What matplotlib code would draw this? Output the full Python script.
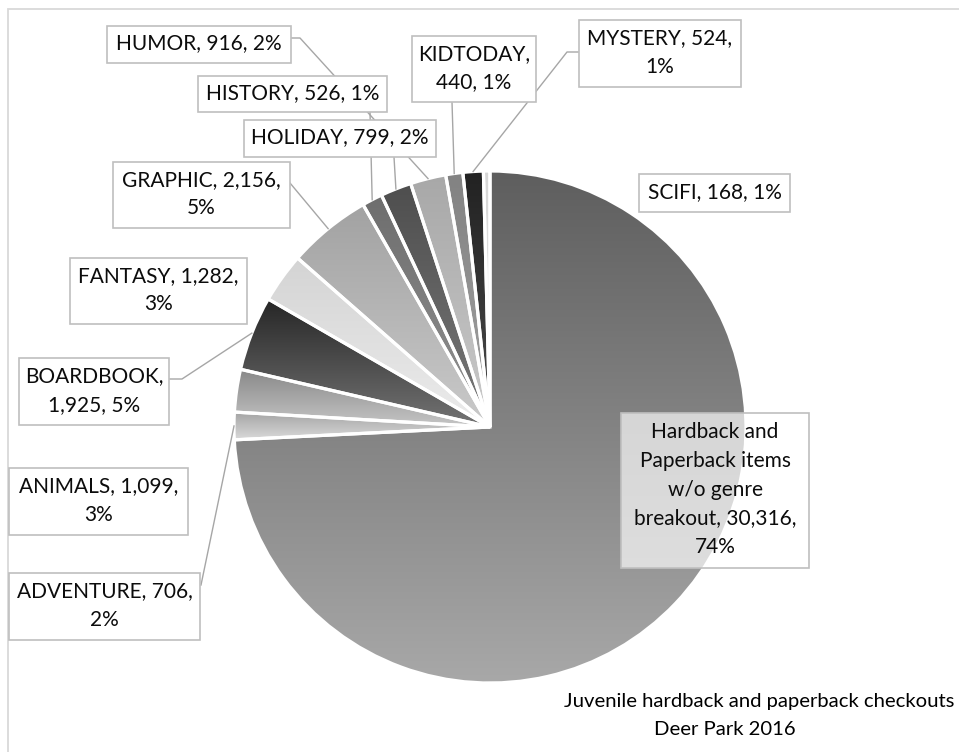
import numpy as np
import matplotlib
matplotlib.use("Agg")
import matplotlib.pyplot as plt
from matplotlib.colors import LinearSegmentedColormap
from matplotlib.patches import Rectangle

W, H = 959, 752

genres = ["Hardback and\nPaperback items\nw/o genre\nbreakout", "ADVENTURE", "ANIMALS",
          "BOARDBOOK", "FANTASY", "GRAPHIC", "HISTORY", "HOLIDAY", "HUMOR",
          "KIDTODAY", "MYSTERY", "SCIFI"]
checkouts = [30316, 706, 1099, 1925, 1282, 2156, 526, 799, 916, 440, 524, 168]
pct_labels = ["74%", "2%", "3%", "5%", "3%", "5%", "1%", "2%", "2%", "1%", "1%", "1%"]

# separators after the name and after the value (where the label wraps)
seps = [(", ", ",\n"), (", ", ",\n"), (", ", ",\n"), (",\n", ", "), (", ", ",\n"),
        (", ", ",\n"), (", ", ", "), (", ", ", "), (", ", ", "), (",\n", ", "),
        (", ", ",\n"), (", ", ", ")]

# gradient colours, top -> bottom of each slice
top_cols = ["#5e5e5e", "#a4a4a4", "#888888", "#262626", "#d4d4d4", "#a2a2a2",
            "#6e6e6e", "#4e4e4e", "#a8a8a8", "#828282", "#222222", "#d6d6d6"]
bot_cols = ["#a8a8a8", "#dadada", "#c6c6c6", "#747474", "#ececec", "#cacaca",
            "#929292", "#7a7a7a", "#cacaca", "#a2a2a2", "#4c4c4c", "#eeeeee"]

# label boxes in pixels: x0, x1, y0, y1 (y from top)
boxes = [(621, 809, 413, 568), (9, 200, 573, 640), (9, 188, 468, 535),
         (19, 169, 358, 425), (70, 247, 258, 324), (113, 290, 162, 228),
         (198, 387, 76, 112), (244, 436, 120, 157), (107, 291, 26, 63),
         (412, 536, 36, 102), (579, 741, 20, 87), (639, 790, 174, 212)]

# leader line start points (pixels) from the box towards the slice
leaders = {1: [(201, 585)], 3: [(169, 379), (182, 379)], 5: [(290, 183)],
           6: [(370, 112)], 7: [(394, 157)], 8: [(291, 38), (300, 38)],
           9: [(452, 102)], 10: [(579, 52), (567, 52)]}

font = ["Lato", "DejaVu Sans"]
cx, cy, R = 490, H - 427, 256

fig = plt.figure(figsize=(W / 100, H / 100), dpi=100)
ax = fig.add_axes([0, 0, 1, 1])
ax.set_axis_off()

wedges, _ = ax.pie(checkouts, startangle=90, counterclock=False, center=(cx, cy),
                   radius=R, wedgeprops=dict(facecolor="none", edgecolor="white",
                                             linewidth=2.3, zorder=3))

grad = np.linspace(0, 1, 256).reshape(-1, 1)
for w, tc, bc in zip(wedges, top_cols, bot_cols):
    ext = w.get_path().get_extents()
    cmap = LinearSegmentedColormap.from_list("g", [bc, tc])
    im = ax.imshow(grad, extent=(ext.x0, ext.x1, ext.y0, ext.y1), origin="lower",
                   cmap=cmap, aspect="auto", interpolation="bilinear", zorder=2)
    im.set_clip_path(w)

# chart border
ax.add_patch(Rectangle((8, -20), 1000, H - 9 + 20, facecolor="none",
                       edgecolor="#d9d9d9", linewidth=1.3, zorder=1))

for i, (name, val, pct) in enumerate(zip(genres, checkouts, pct_labels)):
    s1, s2 = seps[i]
    txt = f"{name}{s1}{val:,}{s2}{pct}"
    x0, x1, y0, y1 = boxes[i]
    alpha = 0.68 if i == 0 else 1.0
    ax.add_patch(Rectangle((x0, H - y1), x1 - x0, y1 - y0, facecolor="white",
                           alpha=alpha, edgecolor="none", zorder=5))
    ax.add_patch(Rectangle((x0, H - y1), x1 - x0, y1 - y0, facecolor="none",
                           edgecolor="#bfbfbf", linewidth=1.2, zorder=6))
    ax.text((x0 + x1) / 2, H - (y0 + y1) / 2 + 1, txt, ha="center", va="center",
            family=font, fontsize=15, color="#0c0c0c", linespacing=1.55, zorder=7)
    if i in leaders:
        w = wedges[i]
        mid = np.deg2rad((w.theta1 + w.theta2) / 2)
        pts = [(x, H - y) for x, y in leaders[i]]
        pts.append((cx + R * np.cos(mid), cy + R * np.sin(mid)))
        xs, ys = zip(*pts)
        ax.plot(xs, ys, color="#a6a6a6", linewidth=1.0, zorder=4)

ax.text(759, H - 707, "Juvenile hardback and paperback checkouts", ha="center",
        va="baseline", family=font, fontsize=14.6, color="black")
ax.text(725, H - 735, "Deer Park 2016", ha="center", va="baseline", family=font,
        fontsize=14.6, color="black")

ax.set_xlim(0, W)
ax.set_ylim(0, H)
ax.set_aspect("auto")
fig.savefig("out.png", dpi=100)
